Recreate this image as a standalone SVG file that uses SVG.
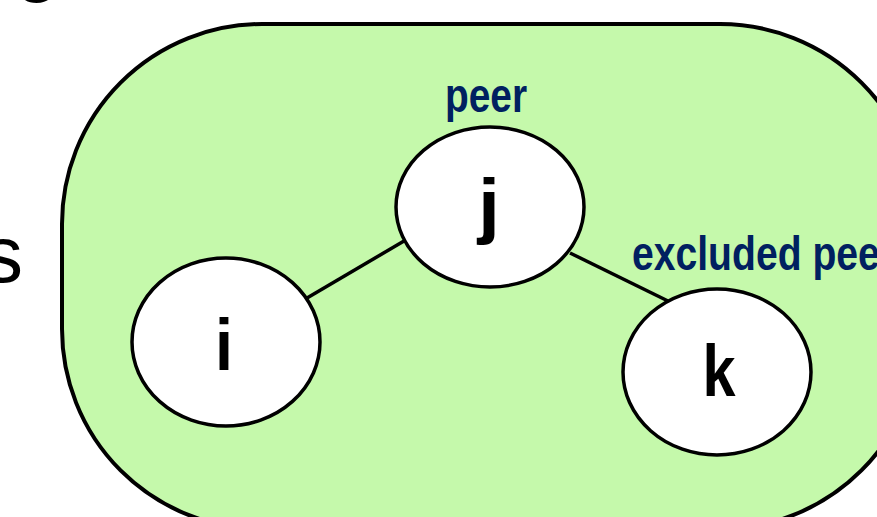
<svg xmlns="http://www.w3.org/2000/svg" width="877" height="517" viewBox="0 0 877 517">
  <style>
    .node { fill: #ffffff; stroke: #000000; stroke-width: 3.5; }
    .edge { stroke: #000000; stroke-width: 3.5; fill: none; }
    .nlabel { font-family: "Liberation Sans", Arial, sans-serif; font-weight: bold; font-size: 72px; fill: #000000; text-anchor: middle; }
    .tag { font-family: "Liberation Sans", Arial, sans-serif; font-weight: bold; font-size: 48px; fill: #002060; }
    .side { font-family: "Liberation Sans", Arial, sans-serif; font-size: 80px; fill: #000000; }
  </style>
  <rect width="877" height="517" fill="#ffffff"/>

  <!-- letters of the surrounding text -->
  <text class="side" x="15" y="-14">g</text>
  <text class="side" x="-17" y="282">s</text>

  <!-- region -->
  <g id="region">
    <rect x="62" y="24" width="858" height="505" rx="200" ry="200" fill="#c5f9ab" stroke="#000000" stroke-width="4"/>
  </g>

  <!-- connectors -->
  <g id="edges">
    <line class="edge" x1="307" y1="298" x2="404" y2="241"/>
    <line class="edge" x1="570" y1="253" x2="668" y2="301"/>
  </g>

  <g id="node-j">
    <ellipse class="node" cx="490" cy="207" rx="94" ry="80"/>
    <text class="nlabel" x="489" y="230" textLength="22" lengthAdjust="spacingAndGlyphs">j</text>
  </g>
  <g id="node-i">
    <ellipse class="node" cx="226" cy="342" rx="94" ry="84"/>
    <text class="nlabel" x="224" y="370" textLength="18" lengthAdjust="spacingAndGlyphs">i</text>
  </g>
  <g id="node-k">
    <ellipse class="node" cx="717" cy="372" rx="94" ry="83"/>
    <text class="nlabel" x="719" y="396" textLength="33" lengthAdjust="spacingAndGlyphs">k</text>
  </g>

  <g id="labels">
    <text class="tag" x="445" y="112" textLength="82" lengthAdjust="spacingAndGlyphs">peer</text>
    <text class="tag" x="632" y="270" textLength="263" lengthAdjust="spacingAndGlyphs">excluded peer</text>
  </g>
</svg>
